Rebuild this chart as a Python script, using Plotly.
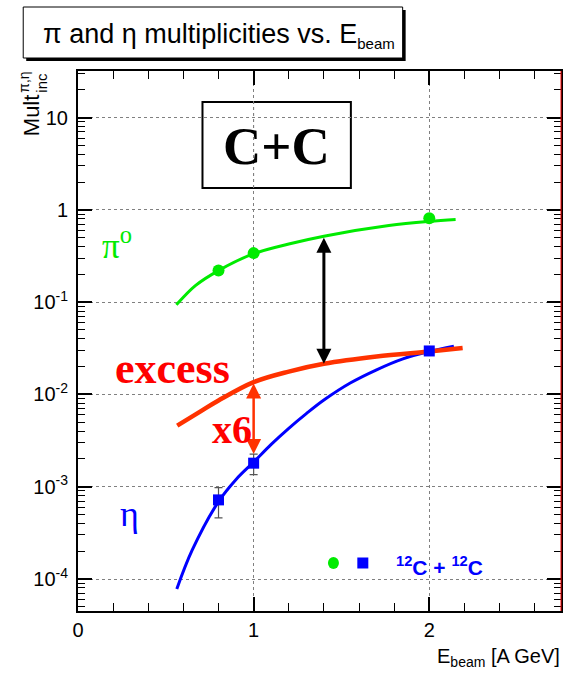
import numpy as np
import plotly.graph_objects as go

# ---- measured multiplicities, C+C ----
PI0_E = [0.8, 1.0, 2.0]
PI0_MULT = [0.22, 0.34, 0.81]

ETA_E = [0.8, 1.0, 2.0]
ETA_MULT = [7.2e-4, 1.8e-3, 0.0296]
ETA_ERR = [2.6e-4, 4.5e-4, 1.5e-3]

# ---- interpolation curves ----
PI0_CURVE_E = [0.56, 0.67, 0.8, 1.0, 1.2, 1.4, 1.77, 2.0, 2.15]
PI0_CURVE = [0.0935, 0.152, 0.22, 0.335, 0.427, 0.519, 0.676, 0.75, 0.785]

EXCESS_E = [0.565, 0.7, 0.8, 1.0, 1.2, 1.4, 1.7, 2.0, 2.19]
EXCESS = [0.0046, 0.0066, 0.0086, 0.0136, 0.0177, 0.0215, 0.0258, 0.0292, 0.0318]

ETA_CURVE_E = [0.5625, 0.65, 0.8, 0.9, 1.0, 1.1, 1.2, 1.3, 1.4, 1.55, 1.7, 1.85, 2.0, 2.14]
ETA_CURVE = [7.8e-5, 2.05e-4, 6.9e-4, 1.2e-3, 1.85e-3, 2.88e-3, 4.3e-3, 6.2e-3,
             8.7e-3, 0.0133, 0.0185, 0.0243, 0.0292, 0.0334]

# ---- arrows: pi0 -> excess gap, and excess -> excess/6 ----
GAP_ARROW_E = 1.4
SCALE_ARROW_E = 1.0
SCALE_FACTOR = 6

# ---- axes ----
X_RANGE = [0, 2.75]
Y_RANGE = [4.5e-5, 32]
X_TICKS = [0, 1, 2]
Y_TICKS = [1e-4, 1e-3, 1e-2, 1e-1, 1, 10]
Y_TICKTEXT = ["10<sup>-4</sup>", "10<sup>-3</sup>", "10<sup>-2</sup>",
              "10<sup>-1</sup>", "1", "10"]

GREEN = "rgb(0,235,0)"
BLUE = "rgb(0,0,255)"
ORANGE_RED = "rgb(255,50,0)"
RED = "rgb(255,0,0)"
GRID = "#808080"
SANS = "Liberation Sans, Arial, sans-serif"
SERIF = "Liberation Serif, Times New Roman, serif"

W, H = 567, 673
L, R, T, B = 78, 4, 71, 62
PW, PH = W - L - R, H - T - B


def px(x):
    return (x - L) / PW


def py(y):
    return (H - B - y) / PH


def log_interp(e, es, vs):
    return float(np.interp(e, es, np.log10(vs)))


fig = go.Figure()

fig.add_trace(go.Scatter(x=PI0_CURVE_E, y=PI0_CURVE, mode="lines",
                         line=dict(color=GREEN, width=3, shape="spline", smoothing=1)))
fig.add_trace(go.Scatter(x=ETA_CURVE_E, y=ETA_CURVE, mode="lines",
                         line=dict(color=BLUE, width=3, shape="spline", smoothing=1)))
fig.add_trace(go.Scatter(x=EXCESS_E, y=EXCESS, mode="lines",
                         line=dict(color=ORANGE_RED, width=4.5, shape="spline", smoothing=1)))
fig.add_trace(go.Scatter(x=PI0_E, y=PI0_MULT, mode="markers",
                         marker=dict(symbol="circle", size=12, color=GREEN)))
fig.add_trace(go.Scatter(x=ETA_E, y=ETA_MULT, mode="markers",
                         marker=dict(symbol="square", size=11, color=BLUE),
                         error_y=dict(type="data", array=ETA_ERR, color="#555555",
                                      thickness=1.2, width=4)))

annotations = []

# double arrows
gap_top = log_interp(GAP_ARROW_E, PI0_CURVE_E, PI0_CURVE)
gap_bot = log_interp(GAP_ARROW_E, EXCESS_E, EXCESS)
annotations.append(dict(x=GAP_ARROW_E, y=gap_bot, ax=GAP_ARROW_E, ay=gap_top,
                        xref="x", yref="y", axref="x", ayref="y", text="",
                        showarrow=True, arrowhead=2, startarrowhead=2,
                        arrowside="end+start", arrowwidth=3, arrowsize=1.0,
                        startarrowsize=1.0, arrowcolor="black"))
sc_top = log_interp(SCALE_ARROW_E, EXCESS_E, EXCESS)
sc_bot = sc_top - np.log10(SCALE_FACTOR)
annotations.append(dict(x=SCALE_ARROW_E, y=sc_bot, ax=SCALE_ARROW_E, ay=sc_top,
                        xref="x", yref="y", axref="x", ayref="y", text="",
                        showarrow=True, arrowhead=2, startarrowhead=2,
                        arrowside="end+start", arrowwidth=2.5, arrowsize=1.2,
                        startarrowsize=1.2, arrowcolor=ORANGE_RED))

def note(text, x, y, size, color="black", family=SANS, xanchor="center",
         yanchor="middle", angle=0):
    annotations.append(dict(text=text, x=px(x), y=py(y), xref="paper", yref="paper",
                            showarrow=False, xanchor=xanchor, yanchor=yanchor,
                            textangle=angle,
                            font=dict(size=size, color=color, family=family)))

# title
note("π and η multiplicities vs. E<sub><span style='font-size:15px'>beam</span></sub>",
     220, 35, 27)
# system label
note("<b>C+C</b>", 277.5, 146, 53, family=SERIF)
# curve labels
note("π<sup>o</sup>", 100, 243, 35, color=GREEN, family=SERIF, xanchor="left")
note("<b>excess</b>", 113, 368, 44, color=RED, family=SERIF, xanchor="left")
note("<b>x6</b>", 211, 430, 40, color=RED, family=SERIF, xanchor="left")
note("η", 118, 514, 36, color=BLUE, family=SERIF, xanchor="left")
# legend text
note("<b><sup>12</sup>C + <sup>12</sup>C</b>", 395, 566, 21, color=BLUE, xanchor="left")
# axis titles
note("E<sub><span style='font-size:14px'>beam</span></sub> [A GeV]", 564, 657, 20,
     xanchor="right")
note("Mult", 31, 115, 22, angle=-90)
note("π,η", 24, 82.5, 14, angle=-90)
note("inc", 41, 82.5, 15, angle=-90)

shapes = [
    # title pave with shadow
    dict(type="rect", xref="paper", yref="paper", x0=px(26), x1=px(407),
         y0=py(61), y1=py(10), fillcolor="black", line=dict(width=0)),
    dict(type="rect", xref="paper", yref="paper", x0=px(23), x1=px(404),
         y0=py(58), y1=py(7), fillcolor="white", line=dict(color="black", width=1)),
    # system pave
    dict(type="rect", xref="paper", yref="paper", x0=px(203), x1=px(352),
         y0=py(188), y1=py(102), fillcolor="white", layer="between",
         line=dict(color="black", width=2)),
    dict(type="line", xref="x", yref="paper", x0=1, x1=1, y0=py(188), y1=py(102),
         line=dict(color=GRID, width=1, dash="dot")),
    # right frame edge
    dict(type="line", xref="paper", yref="paper", x0=1, x1=1, y0=0, y1=1,
         line=dict(color="red", width=1)),
    # legend symbols
    dict(type="circle", xref="paper", yref="paper", xsizemode="pixel",
         ysizemode="pixel", xanchor=px(334.5), yanchor=py(563),
         x0=-5.5, x1=5.5, y0=-6, y1=6, fillcolor=GREEN, line=dict(width=0)),
    dict(type="rect", xref="paper", yref="paper", xsizemode="pixel",
         ysizemode="pixel", xanchor=px(364), yanchor=py(563),
         x0=-5.5, x1=5.5, y0=-5.5, y1=5.5, fillcolor=BLUE, line=dict(width=0)),
]

y_minor = [k * 10.0 ** e for e in range(-5, 2) for k in range(2, 10)]

axis_font = dict(size=20, color="black", family=SANS)
fig.update_layout(
    width=W, height=H,
    margin=dict(l=L, r=R, t=T, b=B, pad=0),
    paper_bgcolor="white", plot_bgcolor="white",
    showlegend=False,
    annotations=annotations,
    shapes=shapes,
    xaxis=dict(range=X_RANGE, tickvals=X_TICKS, ticks="inside", ticklen=14,
               tickwidth=1.5, tickcolor="black", showline=True, linecolor="black",
               linewidth=2, mirror="ticks", showgrid=True, gridcolor=GRID,
               griddash="dot", gridwidth=1, zeroline=False, tickfont=axis_font,
               ticklabelstandoff=0,
               minor=dict(ticks="inside", ticklen=8, tickwidth=1, tickcolor="black",
                          dtick=0.2, tick0=0, showgrid=False)),
    yaxis=dict(type="log", range=[np.log10(Y_RANGE[0]), np.log10(Y_RANGE[1])],
               tickvals=Y_TICKS, ticktext=Y_TICKTEXT, ticks="inside", ticklen=14,
               tickwidth=1.5, tickcolor="black", showline=True, linecolor="black",
               linewidth=2, mirror="ticks", showgrid=True, gridcolor=GRID,
               griddash="dot", gridwidth=1, zeroline=False, tickfont=axis_font,
               ticklabelstandoff=4,
               minor=dict(ticks="inside", ticklen=7, tickwidth=1, tickcolor="black",
                          tickvals=y_minor, showgrid=False)),
)

fig.write_html("out.html")
